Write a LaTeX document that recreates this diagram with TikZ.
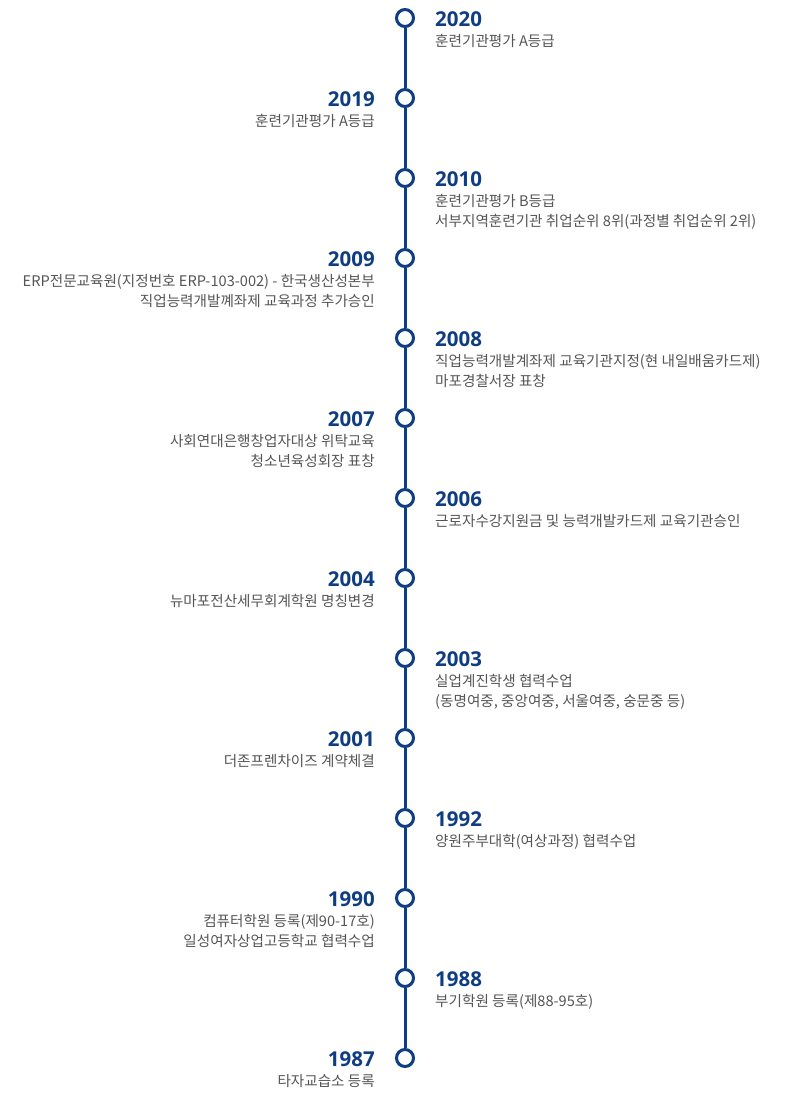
\documentclass[tikz,border=0pt]{standalone}
\usepackage{fontspec}
\setmainfont{Noto Sans CJK KR}
\newfontfamily\yearfont{Open Sans}
\definecolor{tlblue}{HTML}{0E3D82}
\definecolor{tlgray}{HTML}{555555}
\begin{document}
\begin{tikzpicture}[x=1pt,y=-1pt,
  dot/.style={circle,draw=tlblue,line width=3pt,fill=white,minimum size=17pt,inner sep=0pt},
  yr/.style={font=\yearfont\bfseries\fontsize{20.5}{24}\selectfont,text=tlblue,inner sep=0pt},
  desc/.style={font=\fontsize{14.6}{20}\selectfont,text=tlgray,inner sep=0pt},
  rt/.style={anchor=base west},
  lt/.style={anchor=base east},
  link/.style={draw=tlblue,line width=3pt}]
\useasboundingbox[fill=white] (0,0) rectangle (810,1096);

% circles
\node[dot] (c2020) at (405,18) {};
\node[dot] (c2019) at (405,98) {};
\node[dot] (c2010) at (405,178) {};
\node[dot] (c2009) at (405,258) {};
\node[dot] (c2008) at (405,338) {};
\node[dot] (c2007) at (405,418) {};
\node[dot] (c2006) at (405,498) {};
\node[dot] (c2004) at (405,578) {};
\node[dot] (c2003) at (405,658) {};
\node[dot] (c2001) at (405,738) {};
\node[dot] (c1992) at (405,818) {};
\node[dot] (c1990) at (405,898) {};
\node[dot] (c1988) at (405,978) {};
\node[dot] (c1987) at (405,1058) {};

% connectors
\draw[link] (c2020) -- (c2019);
\draw[link] (c2019) -- (c2010);
\draw[link] (c2010) -- (c2009);
\draw[link] (c2009) -- (c2008);
\draw[link] (c2008) -- (c2007);
\draw[link] (c2007) -- (c2006);
\draw[link] (c2006) -- (c2004);
\draw[link] (c2004) -- (c2003);
\draw[link] (c2003) -- (c2001);
\draw[link] (c2001) -- (c1992);
\draw[link] (c1992) -- (c1990);
\draw[link] (c1990) -- (c1988);
\draw[link] (c1988) -- (c1987);

% 2020 (right)
\node[yr,rt] (y2020) at (435,26) {2020};
\node[desc,rt] (d2020a) at (435,46) {훈련기관평가 A등급};
% 2019 (left)
\node[yr,lt] (y2019) at (375,106) {2019};
\node[desc,lt] (d2019a) at (375,126) {훈련기관평가 A등급};
% 2010 (right)
\node[yr,rt] (y2010) at (435,186) {2010};
\node[desc,rt] (d2010a) at (435,206) {훈련기관평가 B등급};
\node[desc,rt] (d2010b) at (435,226) {서부지역훈련기관 취업순위 8위(과정별 취업순위 2위)};
% 2009 (left)
\node[yr,lt] (y2009) at (375,266) {2009};
\node[desc,lt] (d2009a) at (375,286) {ERP전문교육원(지정번호 ERP-103-002) - 한국생산성본부};
\node[desc,lt] (d2009b) at (375,306) {직업능력개발꼐좌제 교육과정 추가승인};
% 2008 (right)
\node[yr,rt] (y2008) at (435,346) {2008};
\node[desc,rt] (d2008a) at (435,366) {직업능력개발계좌제 교육기관지정(현 내일배움카드제)};
\node[desc,rt] (d2008b) at (435,386) {마포경찰서장 표창};
% 2007 (left)
\node[yr,lt] (y2007) at (375,426) {2007};
\node[desc,lt] (d2007a) at (375,446) {사회연대은행창업자대상 위탁교육};
\node[desc,lt] (d2007b) at (375,466) {청소년육성회장 표창};
% 2006 (right)
\node[yr,rt] (y2006) at (435,506) {2006};
\node[desc,rt] (d2006a) at (435,526) {근로자수강지원금 및 능력개발카드제 교육기관승인};
% 2004 (left)
\node[yr,lt] (y2004) at (375,586) {2004};
\node[desc,lt] (d2004a) at (375,606) {뉴마포전산세무회계학원 명칭변경};
% 2003 (right)
\node[yr,rt] (y2003) at (435,666) {2003};
\node[desc,rt] (d2003a) at (435,686) {실업계진학생 협력수업};
\node[desc,rt] (d2003b) at (435,706) {(동명여중, 중앙여중, 서울여중, 숭문중 등)};
% 2001 (left)
\node[yr,lt] (y2001) at (375,746) {2001};
\node[desc,lt] (d2001a) at (375,766) {더존프렌차이즈 계약체결};
% 1992 (right)
\node[yr,rt] (y1992) at (435,826) {1992};
\node[desc,rt] (d1992a) at (435,846) {양원주부대학(여상과정) 협력수업};
% 1990 (left)
\node[yr,lt] (y1990) at (375,906) {1990};
\node[desc,lt] (d1990a) at (375,926) {컴퓨터학원 등록(제90-17호)};
\node[desc,lt] (d1990b) at (375,946) {일성여자상업고등학교 협력수업};
% 1988 (right)
\node[yr,rt] (y1988) at (435,986) {1988};
\node[desc,rt] (d1988a) at (435,1006) {부기학원 등록(제88-95호)};
% 1987 (left)
\node[yr,lt] (y1987) at (375,1066) {1987};
\node[desc,lt] (d1987a) at (375,1086) {타자교습소 등록};
\end{tikzpicture}
\end{document}
